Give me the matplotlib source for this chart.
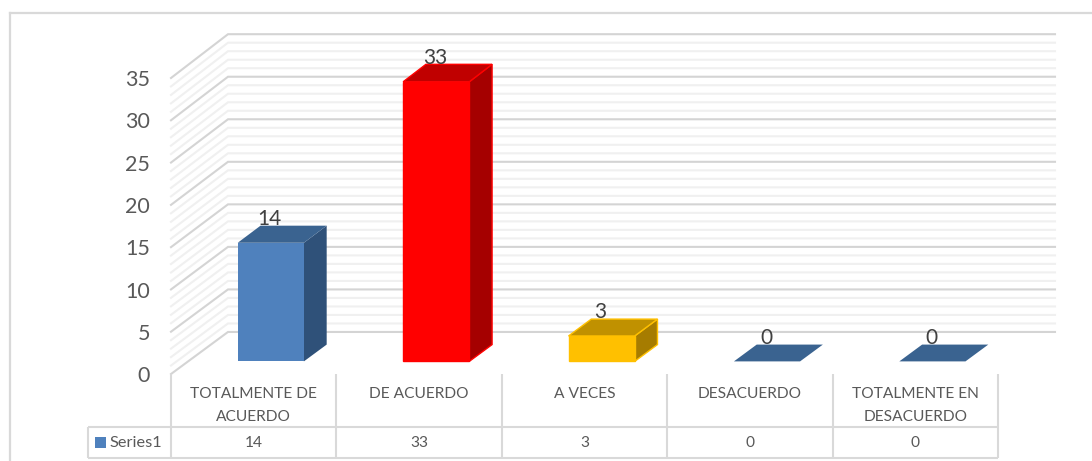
"""Fake-3D column chart with a data table underneath, drawn on plain 2D axes."""

import matplotlib
matplotlib.use("Agg")
import matplotlib.pyplot as plt
from matplotlib.patches import Polygon, Rectangle
from matplotlib.transforms import Affine2D, blended_transform_factory

# Data
categories = ["TOTALMENTE DE\nACUERDO", "DE ACUERDO", "A VECES", "DESACUERDO", "TOTALMENTE EN\nDESACUERDO"]
values = [14, 33, 3, 0, 0]
series_name = "Series1"
y_ticks = [0, 5, 10, 15, 20, 25, 30, 35]
y_minor = list(range(0, 36))

# Colours per bar: front, top, side
bar_front = ["#4f81bd", "#ff0000", "#ffc000", "#4f81bd", "#4f81bd"]
bar_top = ["#3a6390", "#c00000", "#c09100", "#3a6390", "#3a6390"]
bar_side = ["#2f5179", "#a50000", "#a67c00", "#2f5179", "#2f5179"]
bar_edge = ["none", "#ff0000", "#ffc000", "none", "none"]

W, H = 1092, 461
# how far the back wall is shifted from the front plane, in data units
DEPTH_X = 0.3446
DEPTH_Y = 4.97
BACK_SCALE = 0.006  # back wall is drawn very slightly taller than the front
BAR_WIDTH = 0.4
BAR_D0, BAR_D1 = 0.3, 0.7  # bar front and back, as a fraction of the depth

plt.rcParams["font.family"] = ["Lato", "DejaVu Sans"]

fig = plt.figure(figsize=(W / 100, H / 100), dpi=100)
ax = fig.add_axes([171 / W, 1 - 374 / H, (998 - 171) / W, (374 - 78) / H])
ax.set_xlim(0, len(categories))
ax.set_ylim(0, 35)
ax.axis("off")

# pixel coordinates from the top-left corner, for the frame and the table
px = Affine2D().scale(1 / W, -1 / H).translate(0, 1) + fig.transFigure
table_tr = blended_transform_factory(ax.transData, px)


def project(x, v, d):
    """Oblique projection: d=0 is the front plane, d=1 the back wall."""
    return (x + d * DEPTH_X, v * (1 + BACK_SCALE * d) + d * DEPTH_Y)


# Chart frame
fig.add_artist(plt.Line2D([10, 10], [13, H], transform=px, color="#d9d9d9", lw=1.6))
fig.add_artist(plt.Line2D([10, W], [13, 13], transform=px, color="#d9d9d9", lw=1.6))

# Walls: minor lines first so the major ones sit on top
n = len(categories)
for v in y_minor:
    major = v in y_ticks
    color = "#d4d4d4" if major else "#f0f0f0"
    pts = [project(0, v, 0), project(0, v, 1), project(n, v, 1)]
    ax.plot([p[0] for p in pts], [p[1] for p in pts], color=color, lw=1.5,
            clip_on=False, zorder=2 if major else 1, solid_joinstyle="miter")

# Bars
for i, val in enumerate(values):
    x0 = i + 0.5 - BAR_WIDTH / 2
    x1 = i + 0.5 + BAR_WIDTH / 2
    front = [project(x0, 0, BAR_D0), project(x1, 0, BAR_D0), project(x1, val, BAR_D0), project(x0, val, BAR_D0)]
    side = [project(x1, 0, BAR_D0), project(x1, 0, BAR_D1), project(x1, val, BAR_D1), project(x1, val, BAR_D0)]
    top = [project(x0, val, BAR_D0), project(x1, val, BAR_D0), project(x1, val, BAR_D1), project(x0, val, BAR_D1)]
    kw = dict(clip_on=False, zorder=3, lw=1.0, joinstyle="miter")
    if val > 0:
        ax.add_patch(Polygon(side, facecolor=bar_side[i], edgecolor=bar_edge[i], **kw))
        ax.add_patch(Polygon(front, facecolor=bar_front[i], edgecolor=bar_edge[i], **kw))
    ax.add_patch(Polygon(top, facecolor=bar_top[i], edgecolor=bar_edge[i], **kw))
    cx, cy = project(i + 0.5, val, BAR_D0)
    ax.annotate(str(val), (cx, cy), xytext=(-0.7, 17), textcoords="offset points",
                ha="center", va="center", fontsize=15, color="#404040", zorder=5,
                annotation_clip=False)

# Value axis labels
for t in y_ticks:
    ax.annotate(str(t), (0, t), xytext=(-15, -1.5), textcoords="offset points",
                ha="right", va="center", fontsize=15.5, color="#595959",
                annotation_clip=False)

# Data table
grid = dict(color="#d9d9d9", lw=1.5, clip_on=False, solid_capstyle="butt")
for i in range(n + 1):
    fig.add_artist(plt.Line2D([i, i], [374, 458], transform=table_tr, **grid))
fig.add_artist(plt.Line2D([88, 998], [427, 427], transform=px, **grid))
fig.add_artist(plt.Line2D([88, 998], [458, 458], transform=px, **grid))
fig.add_artist(plt.Line2D([88, 88], [427, 458], transform=px, **grid))

for i, (cat, val) in enumerate(zip(categories, values)):
    lines = cat.split("\n")
    for j, line in enumerate(lines):
        fig.text(i + 0.5, 394 + j * 23, line, transform=table_tr, ha="center", va="center",
                 fontsize=11.2, color="#595959")
    fig.text(i + 0.5, 443, str(val), transform=table_tr, ha="center", va="center",
             fontsize=11.2, color="#595959")

# Legend key inside the table
fig.add_artist(Rectangle((95, 437), 11, 11, transform=px, facecolor="#4f81bd", edgecolor="none"))
fig.text(109, 443, series_name, transform=px, ha="left", va="center", fontsize=11.8, color="#595959")

fig.savefig("out.png", dpi=100, facecolor="white")
